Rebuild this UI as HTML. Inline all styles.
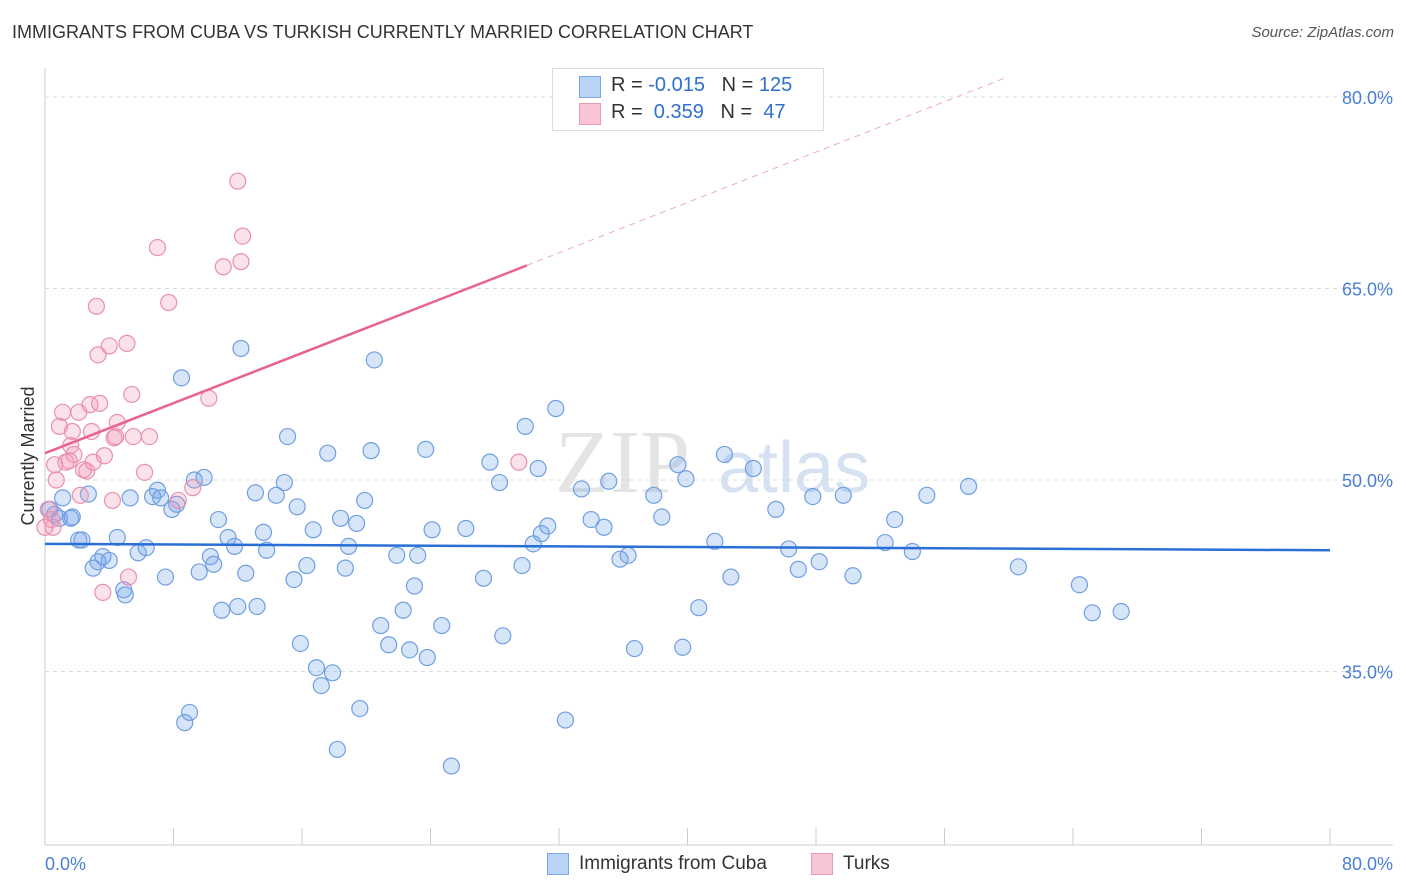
<!DOCTYPE html>
<html><head><meta charset="utf-8"><style>
body{margin:0;background:#fff;font-family:"Liberation Sans",sans-serif;}
#wrap{position:relative;width:1406px;height:892px;overflow:hidden;}
.t{position:absolute;white-space:nowrap;}
</style></head><body>
<div id="wrap">
<div class="t" style="left:12px;top:22px;font-size:18px;color:#333;">IMMIGRANTS FROM CUBA VS TURKISH CURRENTLY MARRIED CORRELATION CHART</div>
<div class="t" style="right:12px;top:24px;font-size:15px;color:#555;font-style:italic;">Source: ZipAtlas.com</div>
<svg id="svg" width="1406" height="892" style="position:absolute;left:0;top:0;font-family:'Liberation Sans',sans-serif;"></svg>
</div>
<script>
const xTicks=[0,8,16,24,32,40,48,56,64,72,80];
const yTicks=[35,50,65,80];
const blueX=[0.3,0.6,0.9,1.1,1.6,1.7,2.1,2.3,2.7,3.0,3.3,3.6,4.0,4.5,4.9,5.0,5.3,5.8,6.3,6.7,7.0,7.2,7.5,7.9,8.2,8.5,8.7,9.0,9.3,9.6,9.9,10.3,10.5,10.8,11.0,11.4,11.8,12.0,12.2,12.5,13.2,13.1,13.6,13.8,14.4,14.9,15.1,15.5,15.7,15.9,16.3,16.7,16.9,17.2,17.6,17.9,18.2,18.4,18.7,18.9,19.4,19.6,19.9,20.3,20.5,20.9,21.4,21.9,22.3,22.7,23.0,23.2,23.7,23.8,24.1,24.7,25.3,26.2,27.3,27.7,28.3,28.5,29.7,29.9,30.4,30.7,30.9,31.3,31.8,32.4,33.4,34.0,34.8,35.1,35.8,36.3,36.7,37.9,38.4,39.4,39.7,39.9,40.7,41.7,42.3,42.7,44.1,45.5,46.3,46.9,47.8,48.2,49.7,50.3,52.3,52.9,54.0,54.9,57.5,60.6,64.4,65.2,67.0];
const blueY=[47.7,47.3,47.0,48.6,47.0,47.1,45.3,45.3,48.9,43.1,43.6,44.0,43.7,45.5,41.4,41.0,48.6,44.3,44.7,48.7,49.2,48.6,42.4,47.7,48.1,58.0,31.0,31.8,50.0,42.8,50.2,44.0,43.4,46.9,39.8,45.5,44.8,40.1,60.3,42.7,40.1,49.0,45.9,44.5,48.8,49.8,53.4,42.2,47.9,37.2,43.3,46.1,35.3,33.9,52.1,34.9,28.9,47.0,43.1,44.8,46.6,32.1,48.4,52.3,59.4,38.6,37.1,44.1,39.8,36.7,41.7,44.1,52.4,36.1,46.1,38.6,27.6,46.2,42.3,51.4,49.8,37.8,43.3,54.2,45.0,50.9,45.8,46.4,55.6,31.2,49.3,46.9,46.3,49.9,43.8,44.1,36.8,48.8,47.1,51.2,36.9,50.1,40.0,45.2,52.0,42.4,50.9,47.7,44.6,43.0,48.7,43.6,48.8,42.5,45.1,46.9,44.4,48.8,49.5,43.2,41.8,39.6,39.7];
const pinkX=[0.2,0.4,0.5,0.6,0.7,0.9,1.1,1.3,1.5,1.6,1.7,1.8,2.1,2.2,2.4,2.6,2.8,2.9,3.0,3.2,3.3,3.4,3.6,3.7,4.0,4.2,4.3,4.4,4.5,5.1,5.2,5.4,5.5,6.2,6.5,7.0,7.7,8.3,9.2,10.2,11.1,12.0,12.2,12.3,29.5,0];
const pinkY=[47.7,46.9,46.3,51.2,50.0,54.2,55.3,51.4,51.5,52.7,53.8,52.0,55.3,48.8,50.8,50.7,55.9,53.8,51.4,63.6,59.8,56.0,41.2,51.9,60.5,48.4,53.3,53.4,54.5,60.7,42.4,56.7,53.4,50.6,53.4,68.2,63.9,48.4,49.4,56.4,66.7,73.4,67.1,69.1,51.4,46.3];
const blueLineX=[0,80], blueLineY=[45.0,44.5];
const pinkLineX=[0,30], pinkLineY=[52.1,66.8];
const pinkDashX=[30,59.8], pinkDashY=[66.8,81.5];

const X0=45,X1=1330,Y50=480,PY=12.77;
const sx=v=>X0+(v/80)*(X1-X0);
const sy=v=>Y50-(v-50)*PY;
const svg=document.getElementById('svg');
const NS='http://www.w3.org/2000/svg';
function mk(tag,attrs){const e=document.createElementNS(NS,tag);for(const k in attrs)e.setAttribute(k,attrs[k]);svg.appendChild(e);return e;}

// watermark
let wm=mk('text',{x:555,y:492,'font-size':90,fill:'#e4e4e4','font-family':'Liberation Serif,serif'});wm.textContent='ZIP';


let wm2=mk('text',{x:718,y:492,'font-size':72,fill:'#d6e2f2'});wm2.textContent='atlas';



yTicks.forEach(v=>{
  const g=mk('line',{x1:X0,x2:1393,y1:sy(v),y2:sy(v),stroke:'#ddd','stroke-dasharray':'4,4'});
  
  
  const t=mk('text',{x:1393,y:sy(v)+7,'text-anchor':'end','font-size':18,fill:'#4a7fd4'});
  t.textContent=v.toFixed(1)+'%';
  
  
});
const ya=mk('line',{x1:X0,x2:X0,y1:68,y2:845,stroke:'#ccc'});


const xa=mk('line',{x1:X0,x2:1393,y1:845,y2:845,stroke:'#ccc'});


xTicks.forEach(v=>{
  const l=mk('line',{x1:sx(v),x2:sx(v),y1:828,y2:845,stroke:'#ccc'});
  
  
});
[[0,'start',45],[80,'end',1393]].forEach(a=>{
  const t=mk('text',{x:a[2],y:870,'text-anchor':a[1],'font-size':18,fill:'#4a7fd4'});
  t.textContent=a[0].toFixed(1)+'%';
  
  
});
const yt=mk('text',{x:34,y:456,'text-anchor':'middle','font-size':18,fill:'#333',transform:'rotate(-90 34 456)'});
yt.textContent='Currently Married';



blueX.forEach((v,i)=>{
  const c=mk('circle',{cx:sx(v),cy:sy(blueY[i]),r:8,fill:'rgba(110,160,235,0.28)',stroke:'#6f9fe3','stroke-width':1.2});
  
  
});
pinkX.forEach((v,i)=>{
  const c=mk('circle',{cx:sx(v),cy:sy(pinkY[i]),r:8,fill:'rgba(240,150,180,0.28)',stroke:'#ea8fae','stroke-width':1.2});
  
  
});
const bl=mk('line',{x1:sx(blueLineX[0]),y1:sy(blueLineY[0]),x2:sx(blueLineX[1]),y2:sy(blueLineY[1]),stroke:'#2a6fd6','stroke-width':2.5});


const pl=mk('line',{x1:sx(pinkLineX[0]),y1:sy(pinkLineY[0]),x2:sx(pinkLineX[1]),y2:sy(pinkLineY[1]),stroke:'#e8648e','stroke-width':2.5});


const pd=mk('line',{x1:sx(pinkDashX[0]),y1:sy(pinkDashY[0]),x2:sx(pinkDashX[1]),y2:sy(pinkDashY[1]),stroke:'#eeaabf','stroke-width':1,'stroke-dasharray':'6,5'});


</script>
<div class="t" style="left:552px;top:68px;width:270px;height:61px;border:1px solid #ddd;background:#fff;font-size:20px;">
  <div class="t" style="left:26px;top:7px;width:20px;height:20px;background:#b8d3f6;border:1px solid #7aa6e6;"></div>
  <div class="t" style="left:58px;top:5px;color:#333;">R = <span style="color:#2f6fd0">-0.015</span>&nbsp;&nbsp;&nbsp;N = <span style="color:#2f6fd0">125</span></div>
  <div class="t" style="left:26px;top:34px;width:20px;height:20px;background:#f8c5d5;border:1px solid #eb9ab5;"></div>
  <div class="t" style="left:58px;top:32px;color:#333;">R = &nbsp;<span style="color:#2f6fd0">0.359</span>&nbsp;&nbsp;&nbsp;N = &nbsp;<span style="color:#2f6fd0">47</span></div>
</div>
<div class="t" style="left:547px;top:853px;width:20px;height:20px;background:#b8d3f6;border:1px solid #7aa6e6;"></div>
<div class="t" style="left:579px;top:853px;font-size:19px;color:#333;">Immigrants from Cuba</div>
<div class="t" style="left:811px;top:853px;width:20px;height:20px;background:#f8c5d5;border:1px solid #eb9ab5;"></div>
<div class="t" style="left:843px;top:853px;font-size:19px;color:#333;">Turks</div>
</body></html>
